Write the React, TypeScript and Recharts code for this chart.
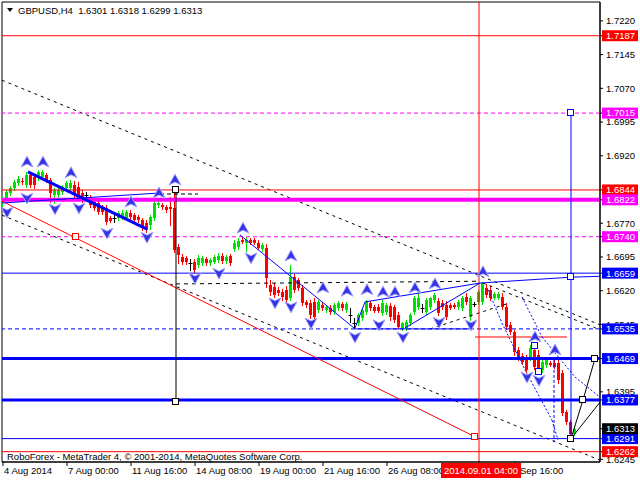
import React from 'react';
import { ComposedChart, Bar, Scatter, XAxis, YAxis, ReferenceLine, ReferenceArea } from 'recharts';

// ---- candle data: [open, high, low, close], H4 bars from 4 Aug 2014 08:00 ----
const candles: number[][] = [
  [1.6817,1.6831,1.6809,1.6826],[1.6826,1.6844,1.6822,1.6840],[1.6837,1.6853,1.6833,1.6849],[1.6849,1.6866,1.6844,1.6862],
  [1.6860,1.6875,1.6855,1.6868],[1.6864,1.6871,1.6857,1.6862],[1.6855,1.6884,1.6851,1.6877],[1.6877,1.6882,1.6851,1.6855],
  [1.6873,1.6877,1.6849,1.6855],[1.6871,1.6888,1.6866,1.6884],[1.6873,1.6888,1.6868,1.6884],[1.6877,1.6882,1.6862,1.6866],
  [1.6866,1.6871,1.6817,1.6837],[1.6833,1.6849,1.6815,1.6844],[1.6833,1.6849,1.6829,1.6844],[1.6840,1.6855,1.6835,1.6851],
  [1.6849,1.6864,1.6844,1.6860],[1.6849,1.6866,1.6844,1.6860],[1.6855,1.6864,1.6829,1.6833],[1.6851,1.6862,1.6822,1.6826],
  [1.6837,1.6844,1.6817,1.6822],[1.6833,1.6840,1.6826,1.6833],[1.6829,1.6833,1.6806,1.6811],[1.6817,1.6822,1.6800,1.6804],
  [1.6815,1.6822,1.6791,1.6795],[1.6806,1.6811,1.6791,1.6795],[1.6804,1.6811,1.6768,1.6773],[1.6782,1.6786,1.6773,1.6775],
  [1.6782,1.6793,1.6773,1.6782],[1.6782,1.6797,1.6777,1.6793],[1.6784,1.6800,1.6780,1.6793],[1.6782,1.6800,1.6777,1.6795],
  [1.6793,1.6800,1.6780,1.6784],[1.6788,1.6793,1.6773,1.6777],[1.6784,1.6788,1.6773,1.6777],[1.6777,1.6782,1.6755,1.6760],
  [1.6771,1.6777,1.6751,1.6755],[1.6766,1.6788,1.6757,1.6784],[1.6782,1.6822,1.6777,1.6815],[1.6811,1.6822,1.6806,1.6815],
  [1.6811,1.6815,1.6802,1.6806],[1.6806,1.6811,1.6795,1.6800],[1.6806,1.6829,1.6766,1.6802],[1.6804,1.6844,1.6706,1.6711],
  [1.6718,1.6724,1.6682,1.6700],[1.6695,1.6702,1.6680,1.6684],[1.6693,1.6698,1.6680,1.6684],[1.6682,1.6691,1.6666,1.6682],
  [1.6684,1.6691,1.6662,1.6666],[1.6678,1.6700,1.6673,1.6693],[1.6682,1.6698,1.6678,1.6693],[1.6691,1.6695,1.6678,1.6682],
  [1.6682,1.6693,1.6678,1.6689],[1.6684,1.6700,1.6682,1.6695],[1.6689,1.6704,1.6684,1.6698],[1.6698,1.6704,1.6682,1.6686],
  [1.6686,1.6700,1.6682,1.6695],[1.6698,1.6702,1.6678,1.6682],[1.6713,1.6733,1.6709,1.6727],[1.6718,1.6738,1.6713,1.6731],
  [1.6733,1.6740,1.6727,1.6729],[1.6727,1.6740,1.6709,1.6733],[1.6733,1.6738,1.6724,1.6727],[1.6733,1.6738,1.6724,1.6727],
  [1.6727,1.6733,1.6713,1.6715],[1.6713,1.6727,1.6709,1.6722],[1.6715,1.6724,1.6629,1.6648],[1.6633,1.6644,1.6611,1.6617],
  [1.6629,1.6637,1.6606,1.6611],[1.6622,1.6629,1.6611,1.6615],[1.6617,1.6624,1.6600,1.6606],[1.6622,1.6631,1.6595,1.6600],
  [1.6604,1.6678,1.6600,1.6651],[1.6651,1.6657,1.6617,1.6622],[1.6644,1.6648,1.6622,1.6626],[1.6626,1.6633,1.6588,1.6593],
  [1.6595,1.6600,1.6584,1.6588],[1.6593,1.6600,1.6560,1.6566],[1.6595,1.6604,1.6560,1.6562],[1.6577,1.6600,1.6573,1.6595],
  [1.6588,1.6595,1.6577,1.6582],[1.6577,1.6588,1.6573,1.6584],[1.6582,1.6588,1.6568,1.6573],[1.6573,1.6593,1.6568,1.6588],
  [1.6582,1.6597,1.6577,1.6593],[1.6591,1.6595,1.6577,1.6582],[1.6577,1.6595,1.6573,1.6591],[1.6566,1.6582,1.6551,1.6566],
  [1.6548,1.6560,1.6537,1.6548],[1.6548,1.6571,1.6544,1.6566],[1.6560,1.6582,1.6555,1.6577],[1.6573,1.6600,1.6568,1.6595],
  [1.6593,1.6597,1.6577,1.6582],[1.6584,1.6588,1.6573,1.6575],[1.6584,1.6591,1.6573,1.6575],[1.6571,1.6600,1.6566,1.6593],
  [1.6573,1.6593,1.6568,1.6588],[1.6586,1.6593,1.6555,1.6562],[1.6584,1.6588,1.6551,1.6555],[1.6566,1.6573,1.6537,1.6540],
  [1.6537,1.6551,1.6533,1.6548],[1.6537,1.6555,1.6533,1.6551],[1.6548,1.6571,1.6544,1.6566],[1.6573,1.6608,1.6568,1.6604],
  [1.6584,1.6615,1.6580,1.6604],[1.6582,1.6591,1.6573,1.6582],[1.6573,1.6604,1.6568,1.6600],[1.6584,1.6606,1.6580,1.6604],
  [1.6600,1.6615,1.6595,1.6611],[1.6597,1.6604,1.6566,1.6571],[1.6593,1.6600,1.6580,1.6584],[1.6588,1.6597,1.6557,1.6562],
  [1.6588,1.6593,1.6580,1.6582],[1.6588,1.6593,1.6582,1.6584],[1.6584,1.6600,1.6580,1.6595],[1.6582,1.6608,1.6577,1.6604],
  [1.6606,1.6615,1.6591,1.6595],[1.6562,1.6608,1.6555,1.6604],[1.6591,1.6595,1.6586,1.6591],[1.6595,1.6622,1.6591,1.6617],
  [1.6595,1.6639,1.6591,1.6637],[1.6626,1.6635,1.6606,1.6611],[1.6622,1.6631,1.6600,1.6604],[1.6604,1.6617,1.6602,1.6613],
  [1.6604,1.6617,1.6602,1.6613],[1.6606,1.6615,1.6580,1.6584],[1.6584,1.6593,1.6535,1.6540],[1.6544,1.6551,1.6524,1.6528],
  [1.6528,1.6533,1.6477,1.6484],[1.6488,1.6495,1.6466,1.6471],[1.6475,1.6482,1.6457,1.6462],[1.6473,1.6477,1.6440,1.6444],
  [1.6471,1.6499,1.6466,1.6493],[1.6488,1.6497,1.6446,1.6451],[1.6477,1.6488,1.6440,1.6444],[1.6444,1.6466,1.6440,1.6462],
  [1.6455,1.6471,1.6451,1.6466],[1.6460,1.6464,1.6453,1.6455],[1.6460,1.6466,1.6449,1.6451],[1.6460,1.6471,1.6415,1.6422],
  [1.6437,1.6444,1.6344,1.6348],[1.6350,1.6355,1.6324,1.6328],[1.6328,1.6333,1.6291,1.6301],[1.6301,1.6318,1.6299,1.6313],
];

// ---- axis ticks ----
const xTickBars = [0, 16, 32, 48, 64, 80, 96, 128, 119];
const xTickLabels = ['4 Aug 2014', '7 Aug 00:00', '11 Aug 16:00', '14 Aug 08:00', '19 Aug 00:00', '21 Aug 16:00',
  '26 Aug 08:00', 'Sep 16:00', '2014.09.01 04:00'];
const markerBar = 119;
const priceTicks = [1.7220, 1.7145, 1.7070, 1.6995, 1.6920, 1.6770, 1.6695, 1.6620, 1.6545, 1.6395, 1.6245];

// ---- horizontal levels ----
const redLevels = [1.7187, 1.6844, 1.6262];
const magentaLevels = [1.7015, 1.6822, 1.6740];
const blueLevels = [1.6659, 1.6535, 1.6469, 1.6377, 1.6291];
const currentPrice = 1.6313;

// ---- drawn objects, [bar, price] ----
const upperChannel = [[-0.25, 1.7088], [149.25, 1.6544]];
const lowerChannel = [[-0.25, 1.6788], [149.25, 1.6243]];
const redTrend = [[-0.25, 1.6819], [118, 1.6295]];
const blueThickTrend = [[6.25, 1.6884], [36, 1.6757]];
const blueFlatTrend = [[-0.25, 1.6815], [38.75, 1.6837]];
const shortDashed = [[39.25, 1.6835], [48.75, 1.6835]];
const blueFall = [[59.25, 1.6744], [87.75, 1.6537]];
const triangleUpper = [[88, 1.6537], [90.5, 1.6595], [119.25, 1.6637]];
const triangleSteep = [[100.5, 1.6537], [119.25, 1.6637]];
const blueExtension = [[119.25, 1.6637], [142, 1.6650], [149.25, 1.6652]];
const neckline = [[43.25, 1.6635], [119.25, 1.6641]];
const rightDashed = [[120, 1.6637], [149.25, 1.6533]];
const risingDashed = [[106.75, 1.6535], [126.75, 1.6593]];
const triangleBase = [[88, 1.6535], [117.25, 1.6535]];
const redShort = [[118, 1.6517], [141, 1.6517]];
const projPathA = [[121.25, 1.6622], [124.75, 1.6548], [130.5, 1.6444], [137.25, 1.6332], [138.75, 1.6288]];
const projPathB = [[129.75, 1.6606], [134.75, 1.6517], [143, 1.6428], [149.25, 1.6383]];
const projVertical = [[137.75, 1.6466], [137.75, 1.6283]];
const targetPathA = [[142, 1.6291], [145, 1.6377], [148, 1.6469]];
const targetPathB = [[142, 1.6291], [149.25, 1.6372]];
const blackVertical = [[43.25, 1.6844], [43.25, 1.6372]];
const blueVertical = [[142, 1.7015], [142, 1.6291]];

const blackSquares = [[43.25, 1.6844], [43.25, 1.6372], [142, 1.6291], [145, 1.6377], [148, 1.6469]];
const blueSquares = [[142, 1.7015], [142, 1.6650], [133, 1.6497], [134, 1.6439]];
const redSquares = [[18.25, 1.6739], [118, 1.6295]];

const upFractals = [[6, 1.6906], [10, 1.6906], [17, 1.6882], [32, 1.6817], [39, 1.6837], [43, 1.6866], [60, 1.6759],
  [72, 1.6697], [80, 1.6626], [86, 1.6619], [91, 1.6622], [95, 1.6617], [98, 1.6617], [103, 1.6626], [108, 1.6635],
  [120, 1.6662], [133, 1.6517], [138, 1.6488]];
const downFractals = [[1, 1.6795], [6, 1.6826], [13, 1.6802], [19, 1.6804], [26, 1.6748], [36, 1.6739], [48, 1.6648],
  [54, 1.6659], [62, 1.6693], [68, 1.6593], [72, 1.6584], [77, 1.6548], [88, 1.6517], [94, 1.6544], [100, 1.6517],
  [109, 1.6550], [117, 1.6544], [131, 1.6428], [134, 1.6421]];

const FONT = '"Liberation Sans", Arial, sans-serif';
const GREEN = '#00e000';

const candleData = candles.map((c, i) => ({ i, o: c[0], h: c[1], l: c[2], c: c[3], range: [c[2], c[1]] }));
const toPts = (a: number[][]) => a.map(([i, p]) => ({ i, p }));

const Candle = (props: any) => {
  const { x, y, width, height, payload } = props;
  if (x == null || !payload) return null;
  const { o, h, l, c } = payload;
  const top = Math.min(y, y + height);
  const bot = Math.max(y, y + height);
  const span = h - l;
  const py = (v: number) => (span > 0 ? top + ((h - v) / span) * (bot - top) : top);
  const cx = x + width / 2;
  const bx = Math.round(cx - 1.5);
  const color = c > o ? GREEN : c < o ? '#ff0000' : '#000000';
  const yb1 = Math.round(py(Math.max(o, c)));
  const yb2 = Math.round(py(Math.min(o, c)));
  return (
    <g>
      <line x1={bx + 1.5} x2={bx + 1.5} y1={Math.round(top)} y2={Math.round(bot) + 1} stroke={color} strokeWidth={1} />
      {c === o ? (
        <line x1={bx - 0.5} x2={bx + 3.5} y1={yb1 + 0.5} y2={yb1 + 0.5} stroke={color} strokeWidth={1} />
      ) : (
        <rect x={bx} y={yb1} width={3} height={Math.max(1, yb2 - yb1)} fill={color} />
      )}
    </g>
  );
};

const makeSquare = (color: string) => (props: any) => {
  const { cx, cy } = props;
  if (cx == null) return <g />;
  return <rect x={Math.round(cx) - 3.5} y={Math.round(cy) - 3.5} width={6} height={6} fill="#fff" stroke={color} strokeWidth={1} />;
};

const FractalUp = (props: any) => {
  const { cx, cy } = props;
  if (cx == null) return <g />;
  return (
    <path d={`M${cx},${cy - 6} L${cx + 6},${cy + 5} L${cx},${cy + 2} L${cx - 6},${cy + 5} Z`}
      fill="#3434e6" stroke="#a8a8ff" strokeWidth={1} />
  );
};
const FractalDown = (props: any) => {
  const { cx, cy } = props;
  if (cx == null) return <g />;
  return (
    <path d={`M${cx},${cy + 6} L${cx + 6},${cy - 5} L${cx},${cy - 2} L${cx - 6},${cy - 5} Z`}
      fill="#3434e6" stroke="#a8a8ff" strokeWidth={1} />
  );
};

const levelColor = (v: number): string | null => {
  if (redLevels.includes(v)) return '#ff0000';
  if (magentaLevels.includes(v)) return '#ff00ff';
  if (blueLevels.includes(v)) return '#0000ff';
  if (v === currentPrice) return '#000000';
  return null;
};

const YTick = (props: any) => {
  const { x, y, payload } = props;
  const v = payload.value as number;
  const col = levelColor(v);
  if (col) {
    return (
      <g>
        <rect x={x - 4} y={y - 5.5} width={36} height={11} fill={col} />
        <text x={x} y={y} dy="0.36em" fill="#fff" fontSize={9.5} fontFamily={FONT}>{v.toFixed(4)}</text>
      </g>
    );
  }
  return <text x={x} y={y} dy="0.36em" fill="#000" fontSize={9.5} fontFamily={FONT}>{v.toFixed(4)}</text>;
};

const XTick = (props: any) => {
  const { x, y, payload } = props;
  const v = payload.value as number;
  const label = xTickLabels[xTickBars.indexOf(v)];
  if (v === markerBar) {
    return (
      <g>
        <rect x={x - 38} y={y - 3} width={80} height={15} fill="#ff0000" />
        <text x={x + 2} y={y + 8} textAnchor="middle" fill="#fff" fontSize={9.5} fontFamily={FONT}>{label}</text>
      </g>
    );
  }
  const dx = label.startsWith('Sep') ? 5 : 1;
  return <text x={x + dx} y={y + 8} fill="#000" fontSize={9.5} fontFamily={FONT}>{label}</text>;
};

const poly = (pts: number[][], key: string, stroke: string, width: number, dash?: string) =>
  pts.slice(1).map((p, k) => (
    <ReferenceLine
      key={`${key}-${k}`}
      segment={[{ x: pts[k][0], y: pts[k][1] }, { x: p[0], y: p[1] }]}
      stroke={stroke}
      strokeWidth={width}
      strokeDasharray={dash}
      ifOverflow="hidden"
    />
  ));

export default function App() {
  const yTicks = [...priceTicks, ...redLevels, ...magentaLevels, ...blueLevels, currentPrice];
  return (
    <div style={{ position: 'absolute', left: 0, top: 0, width: 640, height: 480, background: '#fff' }}>
      <ComposedChart width={640} height={480} data={candleData} margin={{ top: 2, right: 0, bottom: 0, left: 2 }}>
        <XAxis dataKey="i" type="number" domain={[-0.25, 149.25]} allowDataOverflow ticks={xTickBars} interval={0}
          height={18} tickSize={4} tickMargin={0} axisLine={{ stroke: '#000' }} tickLine={{ stroke: '#000' }}
          tick={(p: any) => <XTick {...p} />} />
        <YAxis type="number" orientation="right" width={40} domain={[1.6239, 1.7262]} allowDataOverflow
          ticks={yTicks} interval={0} tickSize={3} tickMargin={3} axisLine={{ stroke: '#000' }} tickLine={{ stroke: '#000' }}
          tick={(p: any) => <YTick {...p} />} />
        <Bar dataKey="range" barSize={3} isAnimationActive={false} shape={(p: any) => <Candle {...p} />} />

        <ReferenceArea x1={-0.25} x2={149.25} y1={1.6239} y2={1.7262} fill="none" stroke="#000" strokeWidth={1} ifOverflow="visible" />

        {poly(upperChannel, 'uc', '#000', 1, '3 4')}
        {poly(lowerChannel, 'lc', '#000', 1, '3 4')}
        {poly(neckline, 'nk', '#000', 1, '4 4')}
        {poly(rightDashed, 'rd', '#000', 1, '3 4')}
        {poly(risingDashed, 'rs', '#000', 1, '3 4')}
        {poly(shortDashed, 'sd', '#000', 1, '4 3')}

        <ReferenceLine y={1.7187} stroke="#ff0000" strokeWidth={1} />
        <ReferenceLine y={1.7015} stroke="#ff00ff" strokeWidth={1} strokeDasharray="4 3" />
        <ReferenceLine y={1.6844} stroke="#ff0000" strokeWidth={1} />
        <ReferenceLine y={1.6822} stroke="#ff00ff" strokeWidth={4} />
        <ReferenceLine y={1.6740} stroke="#ff00ff" strokeWidth={1} strokeDasharray="4 3" />
        <ReferenceLine y={1.6659} stroke="#0000ff" strokeWidth={1} />
        <ReferenceLine y={1.6535} stroke="#0000ff" strokeWidth={1} strokeDasharray="4 3" />
        <ReferenceLine y={1.6469} stroke="#0000ff" strokeWidth={3} />
        <ReferenceLine y={1.6377} stroke="#0000ff" strokeWidth={3} />
        <ReferenceLine y={1.6291} stroke="#0000ff" strokeWidth={1} />
        <ReferenceLine y={1.6262} stroke="#ff0000" strokeWidth={1} />
        <ReferenceLine x={markerBar} stroke="#ff0000" strokeWidth={1} />

        {poly(redTrend, 'rt', '#ff0000', 1)}
        {poly(redShort, 'rsh', '#ff0000', 1)}
        {poly(blueThickTrend, 'btt', '#0000ff', 3)}
        {poly(blueFlatTrend, 'bft', '#0000ff', 1)}
        {poly(blueFall, 'bf', '#0000ff', 1)}
        {poly(triangleUpper, 'tu', '#0000ff', 1)}
        {poly(triangleSteep, 'ts', '#0000ff', 1)}
        {poly(triangleBase, 'tb', '#0000ff', 1)}
        {poly(blueExtension, 'be', '#0000ff', 1)}
        {poly(projPathA, 'pa', '#0000ff', 1, '2 2')}
        {poly(projPathB, 'pb', '#0000ff', 1, '2 2')}
        {poly(projVertical, 'pv', '#0000ff', 1, '3 2')}
        {poly(blueVertical, 'bv', '#0000ff', 1)}
        {poly(blackVertical, 'kv', '#000', 1)}
        {poly(targetPathA, 'ta', '#000', 1)}
        {poly(targetPathB, 'tb2', '#000', 1)}

        <Scatter data={toPts(upFractals)} dataKey="p" isAnimationActive={false} shape={(p: any) => <FractalUp {...p} />} />
        <Scatter data={toPts(downFractals)} dataKey="p" isAnimationActive={false} shape={(p: any) => <FractalDown {...p} />} />
        <Scatter data={toPts(blackSquares)} dataKey="p" isAnimationActive={false} shape={makeSquare('#000')} />
        <Scatter data={toPts(blueSquares)} dataKey="p" isAnimationActive={false} shape={makeSquare('#0000ff')} />
        <Scatter data={toPts(redSquares)} dataKey="p" isAnimationActive={false} shape={makeSquare('#ff0000')} />
      </ComposedChart>
      <svg width={640} height={480} style={{ position: 'absolute', left: 0, top: 0, pointerEvents: 'none' }}>
        <path d="M7,8 L13,8 L10,12 Z" fill="#000" />
        <text x={18} y={14} fontSize={9.5} fontFamily={FONT} fill="#000" style={{ whiteSpace: 'pre' }}>
          {'GBPUSD,H4  1.6301 1.6318 1.6299 1.6313'}
        </text>
        <text x={7} y={460} fontSize={9.5} fontFamily={FONT} fill="#000">
          RoboForex - MetaTrader 4, © 2001-2014, MetaQuotes Software Corp.
        </text>
      </svg>
    </div>
  );
}
